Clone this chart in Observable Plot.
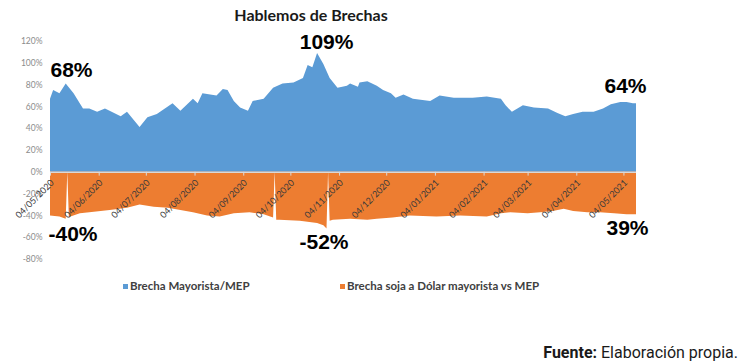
<!DOCTYPE html>
<html><head><meta charset="utf-8">
<script src="https://cdn.jsdelivr.net/npm/d3@7"></script>
<script src="https://cdn.jsdelivr.net/npm/@observablehq/plot@0.6"></script>
<style>
body{margin:0;background:#fff;width:742px;height:364px;overflow:hidden;position:relative;font-family:Lato,sans-serif}
#title{position:absolute;left:0;top:5px;width:622px;text-align:center;font:bold 16px/20px Lato,sans-serif;color:#1a1a1a}
#chart{position:absolute;left:0;top:30px}
#legend{position:absolute;top:278px;left:0;width:742px;height:15px;font:bold 11.5px/15px Lato,sans-serif;color:#404040}
.item{position:absolute;top:0;white-space:nowrap}
.sw{display:inline-block;width:5px;height:5px;margin-right:2px;vertical-align:1px}
#footer{position:absolute;right:4px;top:344px;font:16px/18px Roboto,sans-serif;color:#1a1a1a}
</style></head><body>
<div id="title">Hablemos de Brechas</div>
<div id="chart"></div>
<div id="legend"></div>
<div id="footer"><b>Fuente:</b> Elaboración propia.</div>
<script>
const seriesNames = ["Brecha Mayorista/MEP", "Brecha soja a Dólar mayorista vs MEP"];
const seriesColors = ["#5b9bd5", "#ed7d31"];
const yTicks = [-80, -60, -40, -20, 0, 20, 40, 60, 80, 100, 120];
const xTickLabels = ["04/05/2020","04/06/2020","04/07/2020","04/08/2020","04/09/2020","04/10/2020","04/11/2020","04/12/2020","04/01/2021","04/02/2021","04/03/2021","04/04/2021","04/05/2021"];
const brechaMayoristaMEP = [
 ["2020-05-04",67],["2020-05-06",75],["2020-05-10",72],["2020-05-14",81],["2020-05-19",72],["2020-05-25",58],
 ["2020-05-29",58],["2020-06-03",55],["2020-06-08",58],["2020-06-18",51],["2020-06-22",55],["2020-06-30",41],
 ["2020-07-05",50],["2020-07-11",53],["2020-07-21",63],["2020-07-26",56],["2020-08-03",67],["2020-08-06",63],
 ["2020-08-09",72],["2020-08-18",70],["2020-08-22",76],["2020-08-25",75],["2020-08-29",65],["2020-09-02",59],
 ["2020-09-07",56],["2020-09-10",65],["2020-09-17",67],["2020-09-23",77],["2020-09-29",81],["2020-10-06",82],
 ["2020-10-12",86],["2020-10-15",98],["2020-10-18",96],["2020-10-21",109],["2020-10-25",99],["2020-10-29",86],
 ["2020-11-03",77],["2020-11-09",79],["2020-11-11",81],["2020-11-16",78],["2020-11-17",82],["2020-11-22",83],
 ["2020-11-28",79],["2020-12-02",75],["2020-12-07",72],["2020-12-10",68],["2020-12-15",71],["2020-12-21",67],
 ["2021-01-01",65],["2021-01-07",70],["2021-01-16",68],["2021-01-28",68],["2021-02-06",69],["2021-02-15",67],
 ["2021-02-18",61],["2021-02-22",55],["2021-03-01",61],["2021-03-08",59],["2021-03-17",58],["2021-03-23",54],
 ["2021-03-28",51],["2021-04-02",53],["2021-04-08",55],["2021-04-15",55],["2021-04-21",58],["2021-04-26",62],
 ["2021-05-02",64],["2021-05-06",64],["2021-05-10",63],["2021-05-12",63]
];
const brechaSojaMEP = [
 ["2020-05-04",-40],["2020-05-10",-41],["2020-05-14",-43],["2020-05-15",0],["2020-05-16",-42],["2020-05-17",-41],
 ["2020-05-23",-38],["2020-05-29",-37],["2020-06-11",-35],["2020-06-22",-33],["2020-06-30",-30],["2020-07-09",-32],
 ["2020-07-18",-33],["2020-07-26",-35],["2020-08-03",-37],["2020-08-12",-40],["2020-08-20",-41],["2020-08-29",-38],
 ["2020-09-08",-37],["2020-09-17",-39],["2020-09-23",-42],["2020-09-24",0],["2020-09-25",-44],["2020-09-27",-44],
 ["2020-10-10",-45],["2020-10-21",-47],["2020-10-25",-49],["2020-10-27",-52],["2020-10-28",0],["2020-10-29",-45],
 ["2020-10-31",-44],["2020-11-11",-43],["2020-11-22",-44],["2020-11-28",-43],["2020-12-08",-42],["2020-12-19",-40],
 ["2021-01-05",-41],["2021-01-20",-40],["2021-02-06",-41],["2021-02-15",-38],["2021-02-21",-37],["2021-03-04",-38],
 ["2021-03-12",-37],["2021-03-20",-36],["2021-03-27",-34],["2021-04-02",-36],["2021-04-11",-37],["2021-04-19",-37],
 ["2021-04-28",-38],["2021-05-06",-39],["2021-05-12",-39]
];
const annotationTexts = ["68%","109%","64%","-40%","-52%","39%"];

const parseISO = d3.utcParse("%Y-%m-%d");
const parseTick = d3.utcParse("%d/%m/%Y");
const blue = brechaMayoristaMEP.map(([d,v]) => ({date: parseISO(d), value: v}));
const orange = brechaSojaMEP.map(([d,v]) => ({date: parseISO(d), value: v}));
const ticks = xTickLabels.map(t => ({date: parseTick(t), label: t}));

const maxBlue = blue.reduce((a,b)=> b.value > a.value ? b : a);
const minOrange = orange.reduce((a,b)=> b.value < a.value ? b : a);
const anchors = [blue[0], maxBlue, blue[blue.length-1], orange[0], minOrange, orange[orange.length-1]];
const annoStyle = [
  {dx:0, dy:-29, anchor:"start"},
  {dx:9, dy:-11, anchor:"middle"},
  {dx:10, dy:-17, anchor:"end"},
  {dx:-2, dy:18, anchor:"start"},
  {dx:-3, dy:13, anchor:"middle"},
  {dx:12, dy:13, anchor:"end"}
];
const annoMarks = annotationTexts.map((t,i) => Plot.text([anchors[i]], {
  x: "date", y: "value", text: () => t, dx: annoStyle[i].dx, dy: annoStyle[i].dy,
  textAnchor: annoStyle[i].anchor, fontSize: 21, fontWeight: "bold",
  fontFamily: "Liberation Sans, Arial, sans-serif", fill: "#000"
}));

const chart = Plot.plot({
  width: 742, height: 245,
  marginLeft: 50, marginRight: 106, marginTop: 11, marginBottom: 16,
  style: {background: "transparent", color: "#8c8c8c", fontFamily: "Lato, sans-serif", fontSize: "8.5px"},
  x: {type: "utc", domain: [blue[0].date, blue[blue.length-1].date], axis: null},
  y: {domain: [-80, 120], axis: null},
  marks: [
    Plot.areaY(blue, {x: "date", y: "value", fill: seriesColors[0]}),
    Plot.areaY(orange, {x: "date", y: "value", fill: seriesColors[1]}),
    Plot.ruleY([0], {stroke: "#d9d9d9", strokeWidth: 1.3}),
    Plot.ruleX(ticks, {x: "date", y1: 0, y2: -3.5, stroke: "#d9d9d9"}),
    Plot.axisY({ticks: yTicks, tickSize: 0, tickPadding: 8, tickFormat: d => d + "%", fill: "#8c8c8c", label: null}),
    Plot.text(ticks, {x: "date", y: () => 0, text: "label", rotate: -45, textAnchor: "end",
      dx: 2, dy: 9, fontSize: 9, fill: "#3a3a3a"}),
    ...annoMarks
  ]
});
document.getElementById("chart").appendChild(chart);

const legend = document.getElementById("legend");
const lefts = [123, 340];
seriesNames.forEach((n,i) => {
  const el = document.createElement("div");
  el.className = "item";
  el.style.left = lefts[i] + "px";
  el.innerHTML = `<span class="sw" style="background:${seriesColors[i]}"></span>${n}`;
  legend.appendChild(el);
});
</script>
</body></html>
